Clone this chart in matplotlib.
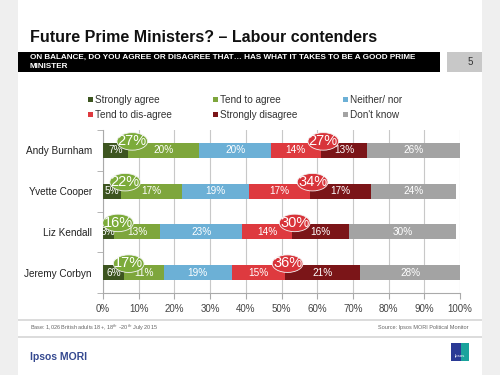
import matplotlib
matplotlib.use("Agg")
from matplotlib import pyplot as plt
from matplotlib.patches import Ellipse, Rectangle
import numpy as np

plt.rcParams['font.family'] = ['Liberation Sans', 'DejaVu Sans']

# data
names = ["Andy Burnham", "Yvette Cooper", "Liz Kendall", "Jeremy Corbyn"]
strongly_agree = [7, 5, 3, 6]
tend_agree = [20, 17, 13, 11]
neither = [20, 19, 23, 19]
tend_disagree = [14, 17, 14, 15]
strongly_disagree = [13, 17, 16, 21]
dont_know = [26, 24, 30, 28]

series_names = ["Strongly agree", "Tend to agree", "Neither/ nor",
                "Tend to dis-agree", "Strongly disagree", "Don't know"]
colors = ["#3d5520", "#7ea63c", "#6cb0d6", "#de3a3f", "#7b1518", "#a3a3a3"]
xticks = np.arange(0, 101, 10)

W, H = 500, 375
fig = plt.figure(figsize=(5, 3.75), dpi=100)
fig.patch.set_facecolor("white")

def px(x0, y0, w, h, **kw):
    # rectangle in pixel coords (top-left origin)
    r = Rectangle((x0 / W, 1 - (y0 + h) / H), w / W, h / H,
                  transform=fig.transFigure, **kw)
    fig.patches.append(r)

# grey side margins
px(0, 0, 18, 375, color="#efefef", lw=0)
px(482, 0, 18, 375, color="#efefef", lw=0)

# title + question band
fig.text(30 / W, 1 - 38 / H, "Future Prime Ministers? \u2013 Labour contenders",
         fontsize=11.5, fontweight="bold", color="#111111", va="center")
px(18, 52, 422, 20, color="black", lw=0)
fig.text(30 / W, 1 - 57 / H,
         "ON BALANCE, DO YOU AGREE OR DISAGREE THAT\u2026 HAS WHAT IT TAKES TO BE A GOOD PRIME",
         fontsize=5.9, fontweight="bold", color="white", va="center")
fig.text(30 / W, 1 - 66.5 / H, "MINISTER",
         fontsize=5.9, fontweight="bold", color="white", va="center")
px(447, 52, 35, 20, color="#c8c8c8", lw=0)
fig.text(470 / W, 1 - 62 / H, "5", fontsize=7, color="#333333", va="center", ha="center")

# legend (manual, 2 rows x 3 cols)
leg_x = [88, 213, 343]
leg_y = [100, 115]
for i, (name, c) in enumerate(zip(series_names, colors)):
    x = leg_x[i % 3]
    y = leg_y[i // 3]
    px(x, y - 3, 5, 5, color=c, lw=0)
    fig.text((x + 7) / W, 1 - y / H, name, fontsize=7.2, color="#333333", va="center")

# chart
ax = fig.add_axes([103 / W, 1 - 293 / H, 357 / W, 163 / H])
data = np.array([strongly_agree, tend_agree, neither,
                 tend_disagree, strongly_disagree, dont_know])
ypos = np.arange(len(names))
left = np.zeros(len(names))
for vals, c in zip(data, colors):
    ax.barh(ypos, vals, left=left, height=0.37, color=c, zorder=3)
    for yi, (l, v) in enumerate(zip(left, vals)):
        ax.text(l + v / 2, yi, f"{v}%", color="white", fontsize=7.2,
                ha="center", va="center", zorder=4)
    left += vals

# net agree / net disagree bubbles
net_agree = data[0] + data[1]
net_dis = data[3] + data[4]
red_x = data[0] + data[1] + data[2] + data[3]
for yi in ypos:
    for cx, val, fc in [(data[0][yi] + 1.2, net_agree[yi], "#7cab3a"),
                        (red_x[yi] + 0.7, net_dis[yi], "#d8343a")]:
        ax.add_patch(Ellipse((cx, yi - 0.22), 8.6, 0.43, facecolor=fc,
                             edgecolor="#f4f4f4", lw=0.6, zorder=5))
        ax.text(cx, yi - 0.23, f"{val}%", color="white", fontsize=10.5,
                ha="center", va="center", zorder=6)

ax.set_xlim(0, 100)
ax.set_ylim(3.5, -0.5)
ax.set_xticks(xticks)
ax.set_xticklabels([f"{t}%" for t in xticks], fontsize=7, color="#444444")
ax.set_yticks(ypos)
ax.set_yticklabels(names, fontsize=7.2, color="#222222")
ax.set_yticks(np.arange(-0.5, 4, 1), minor=True)
ax.tick_params(axis="y", which="major", length=0, pad=8)
ax.tick_params(axis="y", which="minor", length=4, color="#aaaaaa", direction="out")
ax.tick_params(axis="x", length=4, color="#aaaaaa", pad=4)
ax.grid(axis="x", color="#c8c8c8", lw=0.8, zorder=0)
for s in ["top", "right"]:
    ax.spines[s].set_visible(False)
for s in ["left", "bottom"]:
    ax.spines[s].set_color("#aaaaaa")
    ax.spines[s].set_linewidth(0.8)

# footer
px(18, 319, 464, 2, color="#dcdcdc", lw=0)
px(18, 336, 464, 1.5, color="#dcdcdc", lw=0)
fig.text(30 / W, 1 - 328 / H,
         "Base: 1,026 British adults 18+, 18$^{th}$ \u201320$^{th}$ July 2015",
         fontsize=4.0, color="#666666", va="center")
fig.text(468 / W, 1 - 328 / H, "Source: Ipsos MORI Political Monitor",
         fontsize=4.0, color="#666666", va="center", ha="right")
fig.text(30 / W, 1 - 357 / H, "Ipsos MORI", fontsize=7.5, color="#34488f",
         va="center", fontweight="bold")
px(451, 343, 18, 18, color="#2a3a95", lw=0)
px(461, 343, 8, 18, color="#1aa39c", lw=0)
fig.text(460 / W, 1 - 356 / H, "Ipsos", fontsize=3.2, color="white",
         va="center", ha="center")

fig.savefig("out.png", dpi=100)
